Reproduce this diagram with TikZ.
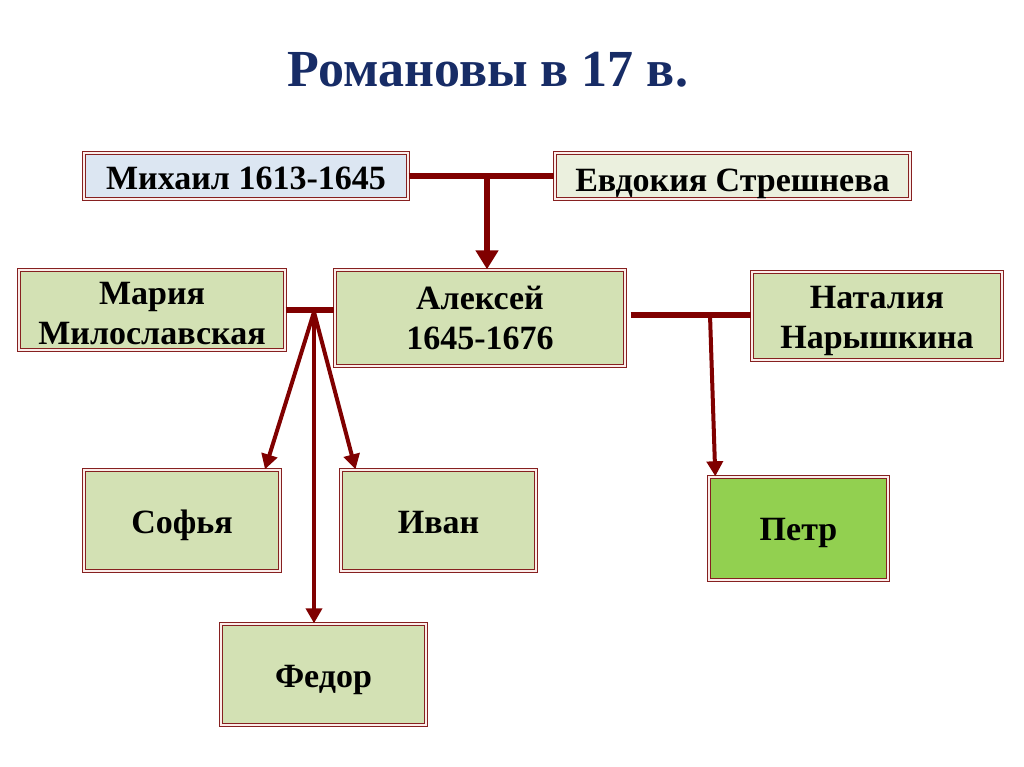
\documentclass[tikz,border=0pt]{standalone}
\usepackage{fontspec}
\setmainfont{Liberation Serif}
\usetikzlibrary{arrows.meta,calc}
\definecolor{linered}{HTML}{800000}
\definecolor{boxred}{HTML}{862020}
\definecolor{gapcol}{HTML}{FBEDEA}
\definecolor{boxgreen}{HTML}{D3E1B4}
\definecolor{boxlight}{HTML}{EBF0DE}
\definecolor{boxblue}{HTML}{DCE6F2}
\definecolor{petrgreen}{HTML}{92D050}
\definecolor{titlenavy}{HTML}{172C66}
\tikzset{
  famebox/.style={draw=boxred, line width=1.4pt, double=gapcol, double distance=1.4pt,
    inner sep=0pt, font=\fontsize{34}{40}\selectfont\bfseries, text=black},
  twoline/.style={famebox, align=center},
  oneline/.style={famebox, text height=#1, text depth=5pt},
  marline/.style={draw=linered, line width=6.5pt},
  bigarrow/.style={draw=linered, line width=6.5pt, -{Triangle[width=22pt,length=19pt]}},
  childarrow/.style={draw=linered, line width=4pt, -{Triangle[width=16pt,length=15pt]}}
}
\begin{document}
\begin{tikzpicture}[x=1pt,y=-1pt]
\useasboundingbox (0,0) rectangle (1024,767);
\fill[white] (0,0) rectangle (1024,767);
\node[anchor=base, font=\fontsize{52}{60}\selectfont\bfseries, text=titlenavy] (title) at (488,87) {Романовы в 17 в.};

\node[oneline=33pt, fill=boxblue, minimum width=324pt, minimum height=46pt] (mikh) at (246,176) {Михаил 1613-1645};
\node[oneline=37pt, fill=boxlight, minimum width=355pt, minimum height=46pt] (evd) at (732.5,176) {Евдокия Стрешнева};
\node[twoline, fill=boxgreen, minimum width=266pt, minimum height=80pt] (maria) at (152,310) {\rule{0pt}{30pt}Мария\\Милославская};
\node[twoline, fill=boxgreen, minimum width=290pt, minimum height=96pt] (alex) at (480,318) {Алексей\\1645-1676};
\node[twoline, fill=boxgreen, minimum width=250pt, minimum height=88pt] (nat) at (877,316) {\rule{0pt}{32pt}Наталия\\Нарышкина};
\node[oneline=30pt, fill=boxgreen, minimum width=196pt, minimum height=101pt] (sof) at (182,520.5) {Софья};
\node[oneline=30pt, fill=boxgreen, minimum width=195pt, minimum height=101pt] (ivan) at (438.5,520.5) {Иван};
\node[oneline=31pt, fill=boxgreen, minimum width=205pt, minimum height=101pt] (fed) at (323.5,674.5) {Федор};
\node[oneline=28pt, fill=petrgreen, minimum width=179pt, minimum height=103pt] (petr) at (798.5,528.5) {Петр};

\coordinate (j1) at (487,176);
\coordinate (j2) at (314,312);
\coordinate (j3) at (710,315);

\draw[marline] (mikh.east) -- (evd.west);
\draw[bigarrow] (j1) -- (j1 |- alex.north);

\draw[marline] (maria.east) -- (maria.east -| alex.west);
\draw[childarrow] (j2) -- ([xshift=83pt]sof.north);
\draw[childarrow] (j2) -- (j2 |- fed.north);
\draw[childarrow] (j2) -- ([xshift=-83pt]ivan.north);

\draw[marline] ([xshift=5pt]alex.east |- j3) -- (nat.west |- j3);
\draw[childarrow] (j3) -- ([xshift=7pt]petr.north west);
\end{tikzpicture}
\end{document}
